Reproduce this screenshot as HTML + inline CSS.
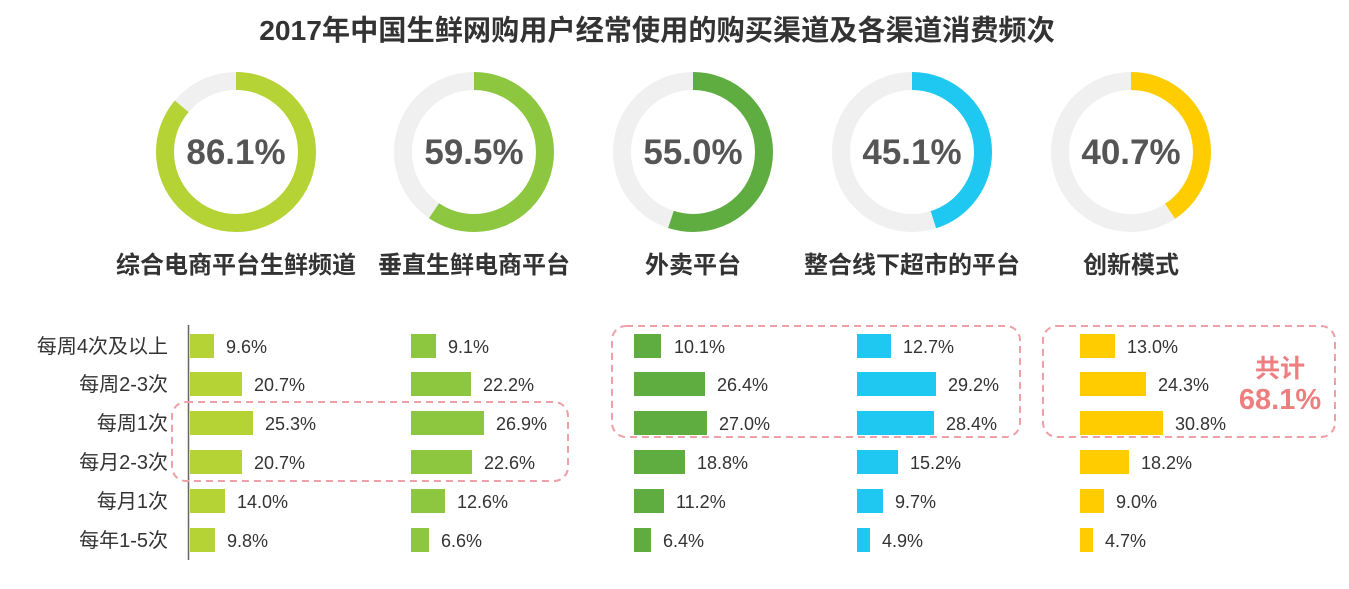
<!DOCTYPE html>
<html><head><meta charset="utf-8"><style>
html,body{margin:0;padding:0;background:#fff;}
svg{display:block;font-family:"Liberation Sans","Noto Sans CJK SC",sans-serif;}
.t{font-size:18px;fill:#333;}
.l{font-size:20px;fill:#333;text-anchor:end;}
.d{font-size:35px;font-weight:bold;fill:#555;text-anchor:middle;}
.c{font-size:24px;font-weight:bold;fill:#333;text-anchor:middle;}
</style></head><body>
<svg width="1349" height="589" viewBox="0 0 1349 589">
<text x="657" y="40" text-anchor="middle" font-size="28.2" font-weight="bold" fill="#333">2017年中国生鲜网购用户经常使用的购买渠道及各渠道消费频次</text>
<g fill="none" stroke-width="18">
<circle cx="236" cy="152" r="71" stroke="#f0f0f0"/>
<circle cx="236" cy="152" r="71" stroke="#b5d334" stroke-dasharray="384.1 1000" transform="rotate(-90 236 152)"/>
<circle cx="474" cy="152" r="71" stroke="#f0f0f0"/>
<circle cx="474" cy="152" r="71" stroke="#8dc63f" stroke-dasharray="265.4 1000" transform="rotate(-90 474 152)"/>
<circle cx="693" cy="152" r="71" stroke="#f0f0f0"/>
<circle cx="693" cy="152" r="71" stroke="#5fad41" stroke-dasharray="245.4 1000" transform="rotate(-90 693 152)"/>
<circle cx="912" cy="152" r="71" stroke="#f0f0f0"/>
<circle cx="912" cy="152" r="71" stroke="#1ec8f0" stroke-dasharray="201.2 1000" transform="rotate(-90 912 152)"/>
<circle cx="1131" cy="152" r="71" stroke="#f0f0f0"/>
<circle cx="1131" cy="152" r="71" stroke="#ffcc00" stroke-dasharray="181.6 1000" transform="rotate(-90 1131 152)"/>
</g>
<text class="d" x="236" y="164">86.1%</text>
<text class="d" x="474" y="164">59.5%</text>
<text class="d" x="693" y="164">55.0%</text>
<text class="d" x="912" y="164">45.1%</text>
<text class="d" x="1131" y="164">40.7%</text>
<text class="c" x="236" y="273">综合电商平台生鲜频道</text>
<text class="c" x="474" y="273">垂直生鲜电商平台</text>
<text class="c" x="693" y="273">外卖平台</text>
<text class="c" x="912" y="273">整合线下超市的平台</text>
<text class="c" x="1131" y="273">创新模式</text>

<line x1="188.5" y1="325" x2="188.5" y2="560" stroke="#666" stroke-width="1.5"/>
<text class="l" x="168" y="353">每周4次及以上</text>
<text class="l" x="168" y="391">每周2-3次</text>
<text class="l" x="168" y="430">每周1次</text>
<text class="l" x="168" y="469">每月2-3次</text>
<text class="l" x="168" y="508">每月1次</text>
<text class="l" x="168" y="547">每年1-5次</text>

<g fill="#b5d334">
<rect x="190" y="334" width="24" height="24"/><rect x="190" y="372" width="52" height="24"/><rect x="190" y="411" width="63" height="24"/><rect x="190" y="450" width="52" height="24"/><rect x="190" y="489" width="35" height="24"/><rect x="190" y="528" width="25" height="24"/>
</g>
<text x="226" y="353" class="t">9.6%</text><text x="254" y="391" class="t">20.7%</text><text x="265" y="430" class="t">25.3%</text><text x="254" y="469" class="t">20.7%</text><text x="237" y="508" class="t">14.0%</text><text x="227" y="547" class="t">9.8%</text>

<g fill="#8dc63f">
<rect x="411" y="334" width="25" height="24"/><rect x="411" y="372" width="60" height="24"/><rect x="411" y="411" width="73" height="24"/><rect x="411" y="450" width="61" height="24"/><rect x="411" y="489" width="34" height="24"/><rect x="411" y="528" width="18" height="24"/>
</g>
<text x="448" y="353" class="t">9.1%</text><text x="483" y="391" class="t">22.2%</text><text x="496" y="430" class="t">26.9%</text><text x="484" y="469" class="t">22.6%</text><text x="457" y="508" class="t">12.6%</text><text x="441" y="547" class="t">6.6%</text>

<g fill="#5fad41">
<rect x="634" y="334" width="27" height="24"/><rect x="634" y="372" width="71" height="24"/><rect x="634" y="411" width="73" height="24"/><rect x="634" y="450" width="51" height="24"/><rect x="634" y="489" width="30" height="24"/><rect x="634" y="528" width="17" height="24"/>
</g>
<text x="674" y="353" class="t">10.1%</text><text x="717" y="391" class="t">26.4%</text><text x="719" y="430" class="t">27.0%</text><text x="697" y="469" class="t">18.8%</text><text x="676" y="508" class="t">11.2%</text><text x="663" y="547" class="t">6.4%</text>

<g fill="#1ec8f0">
<rect x="857" y="334" width="34" height="24"/><rect x="857" y="372" width="79" height="24"/><rect x="857" y="411" width="77" height="24"/><rect x="857" y="450" width="41" height="24"/><rect x="857" y="489" width="26" height="24"/><rect x="857" y="528" width="13" height="24"/>
</g>
<text x="903" y="353" class="t">12.7%</text><text x="948" y="391" class="t">29.2%</text><text x="946" y="430" class="t">28.4%</text><text x="910" y="469" class="t">15.2%</text><text x="895" y="508" class="t">9.7%</text><text x="882" y="547" class="t">4.9%</text>

<g fill="#ffcc00">
<rect x="1080" y="334" width="35" height="24"/><rect x="1080" y="372" width="66" height="24"/><rect x="1080" y="411" width="83" height="24"/><rect x="1080" y="450" width="49" height="24"/><rect x="1080" y="489" width="24" height="24"/><rect x="1080" y="528" width="13" height="24"/>
</g>
<text x="1127" y="353" class="t">13.0%</text><text x="1158" y="391" class="t">24.3%</text><text x="1175" y="430" class="t">30.8%</text><text x="1141" y="469" class="t">18.2%</text><text x="1116" y="508" class="t">9.0%</text><text x="1105" y="547" class="t">4.7%</text>

<g fill="none" stroke="#eea0a6" stroke-width="2" stroke-dasharray="7 5">
<rect x="172" y="402" width="396" height="79" rx="14"/>
<rect x="612" y="326" width="408" height="111" rx="14"/>
<rect x="1043" y="326" width="292" height="111" rx="14"/>
</g>
<text x="1280" y="377" text-anchor="middle" font-size="25" font-weight="bold" fill="#ee7f80">共计</text>
<text x="1280" y="409" text-anchor="middle" font-size="29" font-weight="bold" fill="#ee7f80">68.1%</text>
</svg>
</body></html>
